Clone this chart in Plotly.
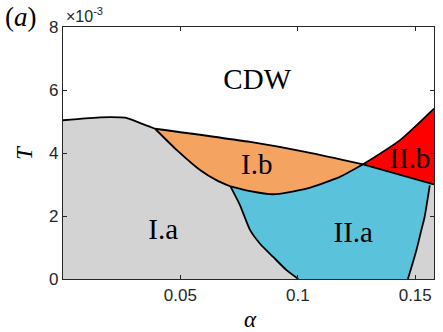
import plotly.graph_objects as go

# phase boundaries, alpha vs T (T in units of 1e-3)
cdw_ia_alpha = [0.0, 0.0095, 0.0201, 0.0265, 0.0329, 0.0392]
cdw_ia_T = [5.04, 5.10, 5.14, 5.12, 4.95, 4.77]

ia_ib_alpha = [0.0392, 0.0485, 0.0585, 0.0655, 0.0713]
ia_ib_T = [4.77, 4.09, 3.45, 3.13, 2.94]

cdw_ib_alpha = [0.0392, 0.0797, 0.1037, 0.1278]
cdw_ib_T = [4.77, 4.35, 4.03, 3.64]

ib_iia_alpha = [0.0713, 0.0797, 0.0895, 0.1037, 0.1179, 0.1278]
ib_iia_T = [2.94, 2.79, 2.69, 2.87, 3.24, 3.64]

cdw_iib_alpha = [0.1278, 0.1434, 0.158]
cdw_iib_T = [3.64, 4.40, 5.41]

iib_iia_alpha = [0.1278, 0.158]
iib_iia_T = [3.64, 3.00]

ia_iia_alpha = [0.0713, 0.0754, 0.0797, 0.0839, 0.0895, 0.0952, 0.1002]
ia_iia_T = [2.94, 2.34, 1.55, 1.12, 0.70, 0.28, 0.0]

iia_right_alpha = [0.1562, 0.1540, 0.1526, 0.1505, 0.1469]
iia_right_T = [2.97, 1.97, 1.55, 0.91, 0.0]

x_ticks = [0.05, 0.1, 0.15]
x_ticktext = ["0.05", "0.1", "0.15"]
y_ticks = [0, 2, 4, 6, 8]

labels = ["CDW", "I.a", "I.b", "II.a", "II.b"]
label_alpha = [0.0827, 0.0427, 0.0825, 0.1236, 0.1477]
label_T = [6.25, 1.49, 3.56, 1.39, 3.77]

x_max = 0.158

fig = go.Figure()


def region(xs, ys, color):
    fig.add_trace(
        go.Scatter(
            x=xs, y=ys, fill="toself", fillcolor=color, mode="none",
            hoverinfo="skip", showlegend=False,
        )
    )


# gray background below the whole CDW line
region(
    [0.0] + cdw_ia_alpha + cdw_ib_alpha[1:] + cdw_iib_alpha[1:] + [x_max, 0.0],
    [0.0] + cdw_ia_T + cdw_ib_T[1:] + cdw_iib_T[1:] + [0.0, 0.0],
    "#d3d3d3",
)
# I.b
region(
    cdw_ib_alpha + ib_iia_alpha[::-1][1:] + ia_ib_alpha[::-1][1:],
    cdw_ib_T + ib_iia_T[::-1][1:] + ia_ib_T[::-1][1:],
    "#f4a460",
)
# II.a
region(
    ib_iia_alpha + iib_iia_alpha[1:] + iia_right_alpha + ia_iia_alpha[::-1],
    ib_iia_T + iib_iia_T[1:] + iia_right_T + ia_iia_T[::-1],
    "#5bc2dc",
)
# II.b
region(
    cdw_iib_alpha + iib_iia_alpha[::-1][:-1],
    cdw_iib_T + iib_iia_T[::-1][:-1],
    "#ff0000",
)

for xs, ys in [
    (cdw_ia_alpha, cdw_ia_T),
    (ia_ib_alpha, ia_ib_T),
    (cdw_ib_alpha, cdw_ib_T),
    (ib_iia_alpha, ib_iia_T),
    (cdw_iib_alpha, cdw_iib_T),
    (iib_iia_alpha, iib_iia_T),
    (ia_iia_alpha, ia_iia_T),
    (iia_right_alpha, iia_right_T),
]:
    fig.add_trace(
        go.Scatter(
            x=xs, y=ys, mode="lines",
            line=dict(color="black", width=1.8, shape="spline", smoothing=0.6),
            hoverinfo="skip", showlegend=False,
        )
    )

fig.add_trace(
    go.Scatter(
        x=label_alpha, y=label_T, mode="text", text=labels,
        textfont=dict(family="Liberation Serif", size=29, color="black"),
        hoverinfo="skip", showlegend=False,
    )
)

axis_style = dict(
    showline=True, linecolor="#262626", linewidth=1.3, mirror="ticks",
    ticks="inside", ticklen=4, tickcolor="#262626", showgrid=False, zeroline=False,
    tickfont=dict(family="Liberation Sans", size=17, color="#262626"),
)

serif = dict(family="Liberation Serif", size=23, color="black")

fig.update_layout(
    width=443,
    height=332,
    margin=dict(l=63, r=9, t=27, b=53),
    plot_bgcolor="white",
    paper_bgcolor="white",
    xaxis=dict(range=[0, x_max], tickvals=x_ticks, ticktext=x_ticktext, **axis_style),
    yaxis=dict(range=[0, 8], tickvals=y_ticks, **axis_style),
    annotations=[
        dict(text="<i>α</i>", xref="paper", yref="paper", x=0.505, y=-0.162,
             xanchor="center", yanchor="middle", showarrow=False, font=serif),
        dict(text="<i>T</i>", xref="paper", yref="paper", x=-0.105, y=0.5, textangle=-90,
             xanchor="center", yanchor="middle", showarrow=False, font=serif),
        dict(text="(<i>a</i>)", xref="paper", yref="paper", x=-0.112, y=1.04,
             xanchor="center", yanchor="middle", showarrow=False,
             font=dict(family="Liberation Serif", size=27, color="black")),
        dict(text="×10<sup>-3</sup>", xref="paper", yref="paper", x=0.004, y=1.048,
             xanchor="left", yanchor="middle", showarrow=False,
             font=dict(family="Liberation Sans", size=16, color="#262626")),
    ],
)

# the page is exactly the chart size, so drop the default body margin
fig.write_html(
    "out.html",
    config={"displayModeBar": False},
    post_script="document.body.style.margin = '0';",
)
